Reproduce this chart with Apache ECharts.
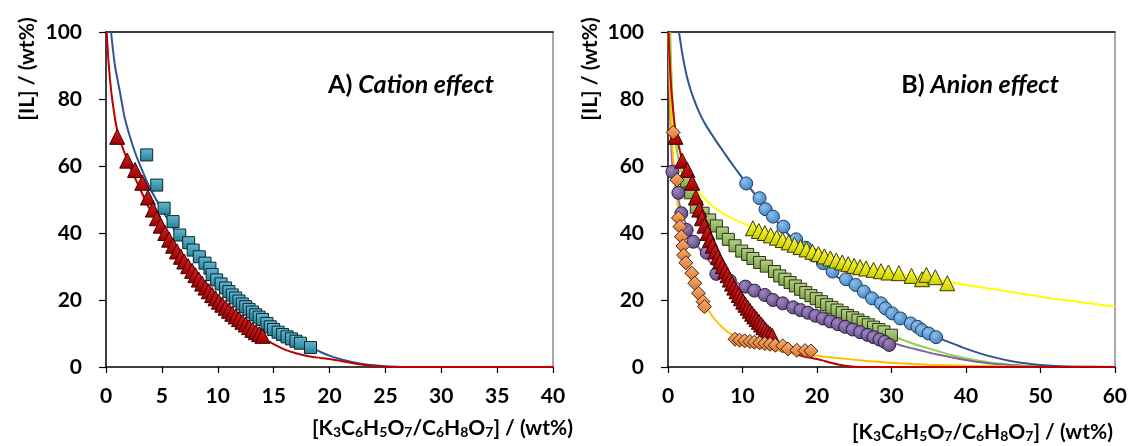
<!DOCTYPE html>
<html><head><meta charset="utf-8">
<script src="https://cdn.jsdelivr.net/npm/echarts@6/dist/echarts.min.js"></script>
<style>html,body{margin:0;padding:0;background:#fff}#c{width:1130px;height:446px}</style>
</head><body><div id="c"></div>
<script>
// ---------- DATA ----------
// Panel A: cation effect
const redTri = [[1.0,68.7],[1.9,61.6],[2.6,58.8],[3.25,55.0],[3.75,50.6],[4.2,47.0],[4.55,44.4],[4.9,42.2],[5.3,40.0],[5.65,38.0],[6.0,36.2],[6.35,34.5],[6.7,32.9],[7.0,31.5],[7.35,30.1],[7.7,28.7],[8.0,27.4],[8.3,26.1],[8.6,24.9],[8.9,23.7],[9.2,22.6],[9.5,21.5],[9.8,20.5],[10.1,19.5],[10.4,18.6],[10.7,17.7],[11.0,16.8],[11.3,15.9],[11.6,15.1],[11.9,14.3],[12.2,13.5],[12.5,12.7],[12.8,11.9],[13.1,11.1],[13.4,10.4],[13.7,9.8],[14.0,9.3]];
const redFit = [[0.06,100],[0.25,90],[0.55,80],[1.05,70],[2,61],[3,53.5],[4,46.5],[5,40.5],[6,35],[7,30.5],[8,26.5],[9,22.5],[10,19],[11,16],[12,13.2],[13,10.8],[14,8.8],[15,6.8],[16,5.2],[17,4.1],[18,3.3],[19,2.8],[20,2.4],[21,1.8],[22,1.2],[23,0.7],[24,0.3],[25,0.1],[26,0],[40,0],[60,0]];
const tealSq = [[3.64,63.3],[4.54,54.3],[5.2,47.4],[6.0,43.4],[6.6,39.4],[7.4,37.1],[7.8,34.9],[8.35,32.9],[8.86,31.0],[9.3,29.5],[9.5,27.6],[9.9,26.0],[10.3,24.8],[10.7,23.6],[11.0,22.5],[11.3,21.5],[11.6,20.6],[11.9,19.7],[12.2,18.8],[12.5,18.0],[12.8,17.2],[13.1,16.4],[13.4,15.6],[13.7,14.9],[14.0,14.2],[14.4,13.0],[14.7,12.0],[15.0,11.2],[15.4,10.4],[15.8,9.7],[16.2,9.0],[16.6,8.4],[17.0,7.7],[17.4,7.1],[18.3,5.8]];
const blueFitA = [[0.45,100],[0.8,90],[1.25,82],[1.7,74],[2.5,65],[3.2,59],[4,53],[5,47],[6,41.5],[7,37],[8,33],[9,29.3],[10,26],[11,23],[12,20],[13,17.3],[14,14.8],[15,12.3],[16,10],[17,8],[18,6.3],[19,4.8],[20,3.4],[21,2.3],[22,1.5],[23,0.9],[24,0.5],[25,0.25],[26,0.1],[28,0],[40,0]];
// Panel B: anion effect
const blueCirc = [[10.5,54.8],[12.3,50.4],[13.1,47.1],[14.1,44.9],[15.5,41.9],[17.2,38.1],[18.5,35.6],[19.6,33.3],[20.8,31.0],[22.1,28.5],[23.9,26.2],[25.2,24.5],[26.3,22.5],[27.4,20.5],[28.6,19.0],[29.2,17.5],[30.1,16.0],[31.2,14.5],[32.6,13.0],[33.5,12.0],[34.1,11.0],[35.0,10.0],[36.0,8.9]];
const blueFitB = [[1.47,100],[2.0,92.5],[2.5,87],[3,83],[3.5,79.8],[4,77],[4.5,74.6],[5,72.5],[6,69],[7,65.7],[8,62.5],[9,59.4],[10,56.4],[11,53.5],[12,50.6],[13,47.8],[14,45.1],[15,42.5],[16,40],[18,35.5],[20,31.5],[22,28],[24,25],[26,22],[28,19],[30,16],[32,13.3],[34,11],[36,9],[38,7.2],[40,5.5],[42,4],[44,2.8],[46,1.8],[48,1.1],[50,0.6],[52,0.3],[55,0.1],[60,0]];
const yellowTri = [[11.4,41.4],[12.2,40.6],[13.0,40.0],[13.8,39.3],[14.6,38.6],[15.4,37.9],[16.2,37.2],[17.0,36.5],[17.8,35.8],[18.6,35.1],[19.4,34.4],[20.2,33.7],[21.0,33.0],[21.8,32.4],[22.6,31.8],[23.4,31.2],[24.2,30.7],[25.0,30.2],[25.8,29.8],[26.6,29.4],[27.6,29.0],[28.6,28.6],[29.6,28.2],[31.0,28.0],[32.7,27.2],[34.1,26.2],[34.7,27.5],[35.9,26.8],[37.5,25.0]];
const yellowFit = [[0.17,100],[0.4,85],[0.63,72],[1,66],[1.5,62],[2,59],[3,55.5],[4,52.5],[5,50],[6,48],[8,45],[10,43],[12,41],[15,38.2],[20,33.8],[25,30.5],[30,28.2],[35,26.5],[40,24.5],[45,22.8],[50,21],[55,19.5],[60,18]];
const greenSq = [[2.5,55.3],[3.0,52.0],[3.8,47.7],[4.7,45.9],[5.6,43.9],[6.5,42.1],[7.3,40.0],[8.1,38.1],[9.0,36.2],[9.9,34.6],[10.7,33.6],[11.4,32.4],[12.3,31.2],[13.2,30.1],[14.3,28.5],[15.0,27.2],[15.7,26.2],[16.4,25.2],[17.1,24.2],[17.8,23.2],[18.5,22.2],[19.2,21.3],[19.9,20.4],[20.6,19.5],[21.3,18.6],[22.0,17.8],[22.7,17.0],[23.4,16.2],[24.1,15.4],[24.8,14.7],[25.5,14.0],[26.2,13.3],[26.9,12.6],[27.6,11.9],[28.3,11.2],[29.0,10.5],[30.0,9.5]];
const greenFit = [[0.3,100],[0.6,80],[1,68],[1.5,61],[2,57],[3,52],[4,47.5],[5,44.5],[6,42],[8,38],[10,34.5],[12,31.5],[14,28.7],[16,25.8],[18,23],[20,20.3],[22,17.8],[24,15.4],[26,13.2],[28,11.2],[30,9.4],[32,7.7],[34,6.2],[36,4.9],[38,3.6],[40,2.6],[42,1.8],[44,1.1],[46,0.7],[48,0.4],[50,0.2],[55,0],[60,0]];
const purpleCirc = [[0.6,58.3],[1.4,52.0],[1.8,45.9],[2.5,40.9],[3.4,37.4],[5.2,34.1],[6.5,27.8],[8.3,25.8],[10.4,24.0],[11.6,22.8],[13.0,21.5],[14.1,20.0],[15.4,19.0],[16.8,17.8],[17.8,17.0],[18.8,16.2],[19.8,15.3],[20.8,14.5],[21.8,13.6],[22.8,12.8],[23.8,12.0],[24.8,11.2],[25.8,10.4],[26.8,9.6],[27.6,8.9],[28.4,8.2],[29.1,7.5],[29.7,6.6]];
const purpleFit = [[0.1,100],[0.3,75],[0.6,60],[1,54],[1.5,49],[2,45],[3,40],[4,36],[5,33],[6,30.5],[8,27],[10,24.2],[12,22],[14,20],[16,18.3],[18,16.8],[20,15.2],[22,13.6],[24,12],[26,10.4],[28,8.8],[30,7.3],[32,6],[34,4.9],[36,3.8],[38,2.9],[40,2.1],[42,1.4],[44,0.9],[46,0.6],[48,0.3],[50,0.15],[55,0],[60,0]];
const orangeDia = [[0.7,70.0],[1.2,55.8],[1.4,44.5],[1.6,41.9],[1.8,38.9],[2.0,36.1],[2.1,33.4],[2.4,31.1],[3.2,28.0],[3.6,25.0],[4.1,22.0],[4.7,19.5],[4.9,18.0],[9.0,8.3],[9.6,8.0],[10.3,7.8],[11.0,7.6],[11.6,7.4],[12.3,7.2],[13.0,7.0],[13.7,6.8],[14.4,6.5],[15.4,6.3],[16.1,5.4],[17.3,5.0],[18.4,4.9],[19.2,4.8]];
const orangeFit = [[0.05,100],[0.3,80],[0.6,65],[1,55],[1.5,45],[2,38],[3,29],[4,23],[5,18.5],[6,15],[7,12.5],[8,10.5],[10,8],[12,6.3],[15,4.8],[19,3.6],[25,2.2],[31,1.1],[35,0.7],[40,0.4],[45,0.2],[50,0.1],[60,0]];

const yTicks = [0,20,40,60,80,100];
const xTicksA = [0,5,10,15,20,25,30,35,40];
const xTicksB = [0,10,20,30,40,50,60];
const panelTitles = [['A) ','Cation effect'],['B) ','Anion effect']];
const yTitle = '[IL] / (wt%)';

// ---------- CHART ----------
const FONT = 'Lato, "Open Sans", sans-serif';
const lbl = {color:'#000', fontFamily:FONT, fontWeight:'bold', fontSize:21};
function xAx(grid, ticks){
  const max = ticks[ticks.length-1], interval = ticks[1]-ticks[0];
  return [{type:'value', gridIndex:grid, min:ticks[0], max:max, interval:interval,
    axisLine:{onZero:false, lineStyle:{color:'#000', width:1.5}},
    axisTick:{inside:false, length:6, lineStyle:{color:'#000', width:1.2}},
    axisLabel:Object.assign({margin:19}, lbl), splitLine:{show:false}},
   {type:'value', gridIndex:grid, position:'top', min:ticks[0], max:max,
    axisLine:{onZero:false, lineStyle:{color:'#000', width:1.5}},
    axisTick:{show:false}, axisLabel:{show:false}, splitLine:{show:false}}];
}
function yAx(grid){
  return [{type:'value', gridIndex:grid, min:yTicks[0], max:yTicks[yTicks.length-1], interval:yTicks[1]-yTicks[0],
    axisLine:{onZero:false, lineStyle:{color:'#000', width:1.5}},
    axisTick:{inside:false, length:7, lineStyle:{color:'#000', width:1.2}},
    axisLabel:Object.assign({margin:24}, lbl), splitLine:{show:false}},
   {type:'value', gridIndex:grid, position:'right', min:0, max:100,
    axisLine:{onZero:false, lineStyle:{color:'#8c8c8c', width:1.5}},
    axisTick:{show:false}, axisLabel:{show:false}, splitLine:{show:false}}];
}
function grad(c1, c2){
  return new echarts.graphic.LinearGradient(0,0,0,1,[{offset:0,color:c1},{offset:1,color:c2}]);
}
function rgrad(c1, c2){
  return new echarts.graphic.RadialGradient(0.38,0.35,0.7,[{offset:0,color:c1},{offset:1,color:c2}]);
}
function fit(data, color, xi, yi, z){
  return {type:'line', data:data, xAxisIndex:xi, yAxisIndex:yi, smooth:0.25, showSymbol:false,
    symbol:'none', lineStyle:{color:color, width:2}, z:z||2, silent:true, clip:true};
}
function pts(data, sym, size, fill, border, xi, yi, z){
  return {type:'scatter', data:data, xAxisIndex:xi, yAxisIndex:yi, symbol:sym, symbolSize:size,
    itemStyle:{color:fill, borderColor:border, borderWidth:1, opacity:1}, z:z||5, silent:true};
}
const subRich = {
  n:{fontFamily:FONT, fontWeight:'bold', fontSize:21, lineHeight:26, verticalAlign:'bottom', color:'#000'},
  s:{fontFamily:FONT, fontWeight:'bold', fontSize:14, lineHeight:15, verticalAlign:'bottom', color:'#000'}
};
const xTitleText = '{n|[K}{s|3}{n|C}{s|6}{n|H}{s|5}{n|O}{s|7}{n|/C}{s|6}{n|H}{s|8}{n|O}{s|7}{n|] / (wt%)}';
function titleRich(i){ return '{a|'+panelTitles[i][0]+'}{b|'+panelTitles[i][1]+'}'; }
const titleStyles = {
  a:{fontFamily:FONT, fontWeight:'bold', fontSize:25, color:'#000'},
  b:{fontFamily:FONT, fontWeight:'bold', fontStyle:'italic', fontSize:25, color:'#000'}
};

const chart = echarts.init(document.getElementById('c'), null, {renderer:'canvas'});
chart.setOption({
  backgroundColor:'#fff', animation:false,
  grid:[{left:106, top:32, width:447, height:335},{left:668, top:32, width:449, height:335}],
  xAxis:[...xAx(0,xTicksA), ...xAx(1,xTicksB)],
  yAxis:[...yAx(0), ...yAx(1)],
  graphic:[
    {type:'text', x:27, y:69, rotation:Math.PI/2, style:{text:yTitle, font:'bold 21px '+FONT, fill:'#000', align:'center', verticalAlign:'middle'}},
    {type:'text', x:590, y:69, rotation:Math.PI/2, style:{text:yTitle, font:'bold 21px '+FONT, fill:'#000', align:'center', verticalAlign:'middle'}},
    {type:'text', x:573, y:426, style:{text:xTitleText, rich:subRich, align:'right', verticalAlign:'middle'}},
    {type:'text', x:1113, y:430, style:{text:xTitleText, rich:subRich, align:'right', verticalAlign:'middle'}},
    {type:'text', x:411, y:85, style:{text:titleRich(0), rich:titleStyles, align:'center', verticalAlign:'middle'}},
    {type:'text', x:980, y:85, style:{text:titleRich(1), rich:titleStyles, align:'center', verticalAlign:'middle'}}
  ],
  series:[
    fit(blueFitA, '#2F5597', 0, 0),
    fit(redFit, '#C00000', 0, 0),
    pts(tealSq, 'rect', 12, grad('#5fbcd3','#2a7d93'), '#0c2630', 0, 0, 5),
    pts(redTri, 'triangle', 15, grad('#e02020','#9a0000'), '#3a0000', 0, 0, 6),

    fit(yellowFit, '#FFFF00', 2, 2),
    fit(greenFit, '#92D050', 2, 2),
    fit(purpleFit, '#8064A2', 2, 2),
    fit(orangeFit, '#FFC000', 2, 2),
    fit(blueFitB, '#2F5597', 2, 2),
    fit(redFit, '#C00000', 2, 2),
    pts(blueCirc, 'circle', 13, rgrad('#8ec0ec','#3d7fc0'), '#1e3f60', 2, 2, 5),
    pts(yellowTri, 'triangle', 15, grad('#ffff40','#cccc00'), '#3a3a00', 2, 2, 6),
    pts(greenSq, 'rect', 12, grad('#b5d38a','#7f9f45'), '#2a3515', 2, 2, 6),
    pts(purpleCirc, 'circle', 13, rgrad('#9e86c2','#5e4680'), '#2a1f3a', 2, 2, 6),
    pts(redTri, 'triangle', 15, grad('#e02020','#9a0000'), '#3a0000', 2, 2, 7),
    pts(orangeDia, 'diamond', 14, grad('#f9b07a','#d9752a'), '#4a2508', 2, 2, 7)
  ]
});
</script></body></html>
